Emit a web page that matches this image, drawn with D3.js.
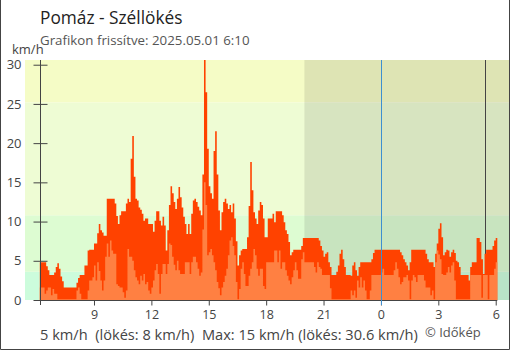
<!DOCTYPE html>
<html>
<head>
<meta charset="utf-8">
<script src="https://cdn.jsdelivr.net/npm/d3@7"></script>
<style>
  html, body { margin: 0; padding: 0; background: #fff; }
  svg { display: block; font-family: "Open Sans", "Noto Sans", sans-serif; }
</style>
</head>
<body>
<svg id="chart" width="510" height="350"></svg>
<script>
// Wind gust (lökés) and mean wind, km/h, one value per 5 minutes from 06:10
const gust = [
  4.8, 4.8, 4.8, 4.8, 4.3, 3.8, 3.2, 3.2, 3.2, 3.5,
  4.2, 4.7, 4.0, 3.0, 2.4, 1.6, 1.6, 1.6, 1.6, 1.6,
  1.6, 1.6, 1.6, 2.2, 2.8, 3.2, 3.2, 3.2, 4.4, 4.4,
  6.3, 6.4, 6.4, 6.4, 7.2, 7.2, 8.5, 9.7, 8.9, 8.6,
  8.2, 8.2, 12.9, 12.9, 12.9, 12.9, 12.9, 12.3, 10.7, 9.7,
  10.8, 11.3, 11.3, 11.3, 12.3, 12.9, 12.5, 18.0, 20.9, 15.7,
  12.9, 12.7, 11.8, 11.5, 11.0, 10.1, 10.4, 10.4, 9.7, 9.7,
  9.7, 8.7, 10.1, 11.3, 11.3, 10.1, 9.5, 10.6, 9.5, 6.3,
  8.9, 12.1, 14.5, 13.6, 12.5, 11.6, 12.9, 14.4, 13.1, 11.8,
  10.6, 9.7, 8.4, 9.7, 8.4, 11.0, 12.7, 12.9, 12.5, 11.9,
  11.4, 10.8, 16.0, 30.6, 26.5, 19.3, 14.5, 13.6, 12.9, 19.0,
  21.5, 16.0, 11.4, 8.9, 11.2, 12.5, 12.9, 12.3, 11.6, 12.1,
  11.2, 12.3, 10.4, 7.5, 4.4, 5.7, 6.3, 6.5, 6.5, 6.5,
  8.0, 12.0, 17.6, 14.0, 11.2, 10.4, 9.7, 11.4, 12.5, 12.1,
  10.4, 8.0, 8.0, 10.4, 10.4, 10.4, 11.0, 9.9, 11.3, 11.3,
  11.3, 11.3, 10.8, 9.9, 8.9, 8.4, 7.4, 5.7, 6.1, 6.4,
  6.4, 6.4, 6.4, 6.4, 6.9, 7.9, 7.9, 7.9, 7.9, 7.9,
  7.9, 7.9, 7.9, 7.9, 7.9, 7.6, 6.9, 6.3, 5.5, 5.9,
  6.1, 4.8, 4.2, 3.2, 3.2, 3.2, 3.6, 4.4, 5.9, 6.4,
  5.2, 4.2, 3.2, 3.2, 3.2, 3.1, 4.4, 4.8, 3.8, 3.1,
  4.2, 4.8, 4.8, 4.8, 4.8, 4.8, 4.8, 4.8, 5.2, 6.0,
  6.4, 6.4, 6.4, 6.4, 6.4, 6.4, 6.4, 6.4, 6.4, 6.4,
  6.4, 6.4, 6.4, 6.4, 6.4, 6.4, 6.1, 5.7, 5.2, 4.8,
  4.4, 3.8, 4.8, 6.4, 6.4, 6.4, 6.4, 6.4, 6.4, 6.4,
  6.4, 6.4, 5.9, 5.2, 4.8, 4.8, 4.8, 4.2, 5.9, 7.2,
  9.1, 9.8, 8.0, 5.7, 6.1, 6.4, 6.3, 5.5, 6.1, 6.4,
  6.0, 5.0, 4.8, 4.2, 3.2, 3.2, 3.2, 3.2, 3.2, 2.5,
  4.2, 4.8, 4.8, 4.8, 7.9, 7.9, 7.4, 5.2, 3.3, 5.9,
  6.4, 6.4, 6.4, 6.4, 6.9, 7.6, 7.9
];
const wind = [
  1.6, 1.6, 1.6, 0.8, 1.2, 1.6, 1.6, 0.6, 1.4, 0.8,
  0.8, 0.1, 0.1, 0.1, 0.1, 0.1, 0.1, 0.1, 0.1, 0.1,
  0.1, 0.1, 0.1, 1.2, 1.6, 0.8, 0.1, 0.1, 0.1, 0.1,
  1.2, 2.5, 2.5, 2.9, 4.4, 2.5, 4.8, 3.7, 2.5, 1.2,
  2.5, 5.5, 7.2, 5.5, 7.6, 6.3, 5.9, 5.9, 2.0, 1.8,
  1.6, 1.6, 1.0, 0.3, 1.2, 6.5, 5.5, 5.5, 5.0, 3.8,
  2.9, 2.5, 2.0, 3.1, 2.5, 3.3, 2.0, 2.3, 1.2, 0.8,
  1.6, 2.5, 3.8, 4.6, 3.3, 0.8, 3.3, 4.6, 4.6, 3.3,
  4.6, 7.2, 7.0, 5.5, 4.5, 3.8, 5.0, 3.8, 3.3, 3.3,
  3.3, 4.8, 4.8, 4.8, 3.3, 4.8, 5.5, 5.5, 4.8, 4.0,
  3.1, 3.5, 9.0, 15.0, 12.1, 5.7, 6.1, 6.5, 5.7, 4.8,
  3.8, 2.3, 1.5, 0.6, 1.6, 2.3, 3.1, 4.0, 5.7, 7.6,
  8.0, 6.9, 5.7, 2.3, 0.1, 1.4, 4.0, 4.8, 3.3, 1.8,
  1.8, 3.1, 4.0, 4.8, 6.5, 5.7, 4.0, 3.1, 4.0, 4.0,
  1.8, 1.4, 4.8, 4.8, 4.8, 4.8, 4.8, 6.3, 6.3, 4.8,
  6.3, 4.0, 4.8, 4.8, 3.8, 3.1, 2.5, 2.0, 2.9, 3.8,
  4.8, 3.8, 2.7, 2.7, 5.2, 6.1, 4.8, 4.8, 4.8, 4.8,
  4.8, 4.8, 4.2, 3.5, 4.8, 4.2, 4.0, 3.2, 3.2, 3.2,
  3.2, 3.2, 1.5, 0.1, 0.1, 0.1, 0.1, 0.1, 0.1, 0.1,
  0.1, 0.1, 0.1, 0.1, 0.1, 1.2, 0.6, 1.2, 0.3, 2.5,
  1.6, 2.9, 1.6, 2.5, 1.2, 0.1, 0.1, 1.2, 3.2, 3.2,
  3.2, 3.2, 3.2, 3.2, 3.5, 4.0, 3.2, 3.2, 3.2, 3.2,
  3.2, 3.2, 3.8, 4.8, 4.0, 2.9, 2.0, 2.3, 2.9, 2.9,
  3.2, 2.5, 0.1, 2.5, 3.2, 2.9, 2.3, 3.2, 3.2, 3.2,
  3.2, 2.5, 1.6, 1.6, 1.6, 0.6, 1.2, 0.1, 4.8, 6.3,
  5.8, 5.2, 3.3, 3.2, 3.2, 3.5, 4.2, 3.5, 4.4, 4.8,
  2.5, 0.1, 0.1, 0.1, 0.1, 0.1, 0.1, 0.1, 0.1, 0.1,
  3.2, 3.2, 3.2, 3.2, 3.2, 3.2, 3.2, 0.3, 3.2, 3.2,
  3.2, 0.1, 3.2, 3.2, 3.2, 4.0, 4.8
];

const startTime = new Date(2025, 3, 30, 6, 10);
const stepMinutes = 5;
const xTickTimes = ["2025-04-30T09:00", "2025-04-30T12:00", "2025-04-30T15:00",
  "2025-04-30T18:00", "2025-04-30T21:00", "2025-05-01T00:00",
  "2025-05-01T03:00", "2025-05-01T06:00"];
const yTicks = [0, 5, 10, 15, 20, 25, 30];
const yMax = 30.6;
const bandEdges = [0, 3.6, 10.8, 25.2, yMax];
const bandColors = ["#ccfcdc", "#ddfcd2", "#eefcd4", "#f5fcc6"];
const nightStart = "2025-04-30T20:00";
const sunrise = "2025-05-01T05:27";
const midnight = "2025-05-01T00:00";

const titleText = "Pomáz - Széllökés";
const subtitleText = "Grafikon frissítve: 2025.05.01 6:10";
const unitText = "km/h";
const summaryText = "5 km/h  (lökés: 8 km/h)  Max: 15 km/h (lökés: 30.6 km/h)";
const creditText = "© Időkép";

const parse = s => new Date(s);
const timeAt = k => new Date(startTime.getTime() + k * stepMinutes * 60000);

const rows = gust.map((g, k) => ({ t: timeAt(k), gust: g, wind: wind[k] }));
// closing point so the last step has full width
rows.push({ t: timeAt(gust.length), gust: gust[gust.length - 1], wind: wind[wind.length - 1] });

const svg = d3.select("#chart");

const x = d3.scaleTime()
  .domain([startTime, timeAt(gust.length)])
  .range([39.8, 497.3]);
const y = d3.scaleLinear().domain([0, yMax]).range([300, 60]);

const bgLeft = 25, bgRight = 509;

// background wind-strength bands
svg.append("g").selectAll("rect")
  .data(bandColors)
  .join("rect")
  .attr("x", bgLeft)
  .attr("width", bgRight - bgLeft)
  .attr("y", (c, i) => y(bandEdges[i + 1]))
  .attr("height", (c, i) => y(bandEdges[i]) - y(bandEdges[i + 1]))
  .attr("fill", c => c);

// night shading
svg.append("rect")
  .attr("x", x(parse(nightStart)))
  .attr("y", y(yMax))
  .attr("width", bgRight - x(parse(nightStart)))
  .attr("height", y(0) - y(yMax))
  .attr("fill", "rgba(40,40,40,0.11)");

// sunrise marker
svg.append("line")
  .attr("x1", Math.round(x(parse(sunrise))) + 0.5)
  .attr("x2", Math.round(x(parse(sunrise))) + 0.5)
  .attr("y1", y(yMax)).attr("y2", y(0))
  .attr("stroke", "#444").attr("stroke-width", 1);

// gust and mean wind areas
const areaOf = key => d3.area()
  .curve(d3.curveStepAfter)
  .x(d => x(d.t))
  .y0(y(0))
  .y1(d => y(d[key]));

svg.append("path").datum(rows).attr("d", areaOf("gust")).attr("fill", "#ff4200");
svg.append("path").datum(rows).attr("d", areaOf("wind")).attr("fill", "#ff8042");

// x axis
const xAxis = d3.axisBottom(x)
  .tickValues(xTickTimes.map(parse))
  .tickFormat(d3.timeFormat("%-H"))
  .tickSize(5)
  .tickSizeOuter(0)
  .tickPadding(5);
const gx = svg.append("g").attr("transform", "translate(0,300.5)").call(xAxis);
gx.select(".domain").attr("stroke", "#444").attr("d", "M40,0H497.3");
gx.selectAll(".tick line").attr("stroke", "#444");
gx.selectAll(".tick text").attr("fill", "#444").style("font-size", "12.5px")
  .style("font-family", "'Open Sans', sans-serif");

// y axis
const yAxis = d3.axisLeft(y)
  .tickValues(yTicks)
  .tickSize(7)
  .tickSizeOuter(0)
  .tickPadding(12);
const gy = svg.append("g").attr("transform", "translate(40.5,0)").call(yAxis);
gy.select(".domain").attr("stroke", "#444").attr("d", "M0,60V305");
gy.selectAll(".tick line").attr("stroke", "#444").attr("x1", 7);
gy.selectAll(".tick text").attr("fill", "#444").style("font-size", "13px")
  .style("font-family", "'Open Sans', sans-serif");

// midnight line
svg.append("line")
  .attr("x1", Math.round(x(parse(midnight))) + 0.5)
  .attr("x2", Math.round(x(parse(midnight))) + 0.5)
  .attr("y1", y(yMax)).attr("y2", 305)
  .attr("stroke", "#3d8fd0").attr("stroke-width", 1);

// titles and texts
svg.append("text").attr("x", 40).attr("y", 24)
  .attr("fill", "#222").style("font-size", "17.3px").text(titleText);
svg.append("text").attr("x", 40).attr("y", 45)
  .attr("fill", "#555").style("font-size", "13.3px").text(subtitleText);
svg.append("text").attr("x", 12).attr("y", 54)
  .attr("fill", "#444").style("font-size", "13px").text(unitText);
svg.append("text").attr("x", 40).attr("y", 339.5)
  .attr("fill", "#444").attr("xml:space", "preserve")
  .style("font-size", "14.6px").style("white-space", "pre").text(summaryText);
svg.append("text").attr("x", 425).attr("y", 336.5)
  .attr("fill", "#555").style("font-size", "13px").text(creditText);

// frame
svg.append("path")
  .attr("d", "M0.5,0V349.5H509.5V0")
  .attr("fill", "none").attr("stroke", "#444").attr("stroke-width", 1);
</script>
</body>
</html>
